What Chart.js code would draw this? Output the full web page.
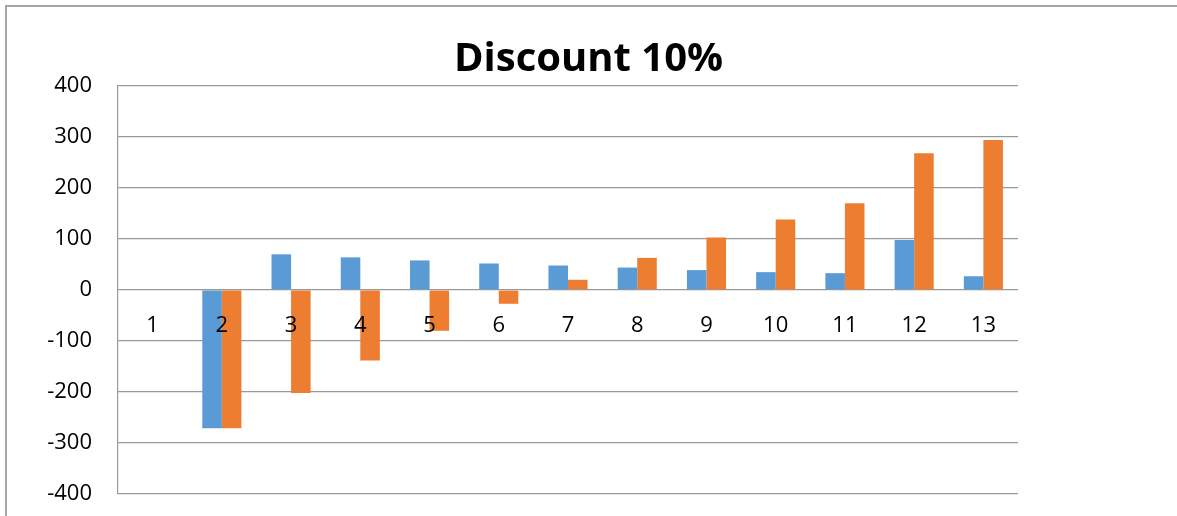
<!DOCTYPE html>
<html>
<head>
<meta charset="utf-8">
<script src="https://cdn.jsdelivr.net/npm/chart.js@4"></script>
<style>
  body { margin: 0; background: #fff; }
  #wrap { position: relative; width: 1177px; height: 516px; overflow: hidden; }
  #frame {
    position: absolute; left: 5px; top: 5px; width: 1200px; height: 600px;
    border-top: 2px solid #a6a6a6; border-left: 2px solid #a6a6a6;
    pointer-events: none;
  }
</style>
</head>
<body>
<div id="wrap">
  <canvas id="myChart" width="1177" height="516"></canvas>
  <div id="frame"></div>
</div>
<script>
var xValues = ["1", "2", "3", "4", "5", "6", "7", "8", "9", "10", "11", "12", "13"];
var blueValues = [0, -271, 70, 64, 58, 52, 48, 44, 39, 35, 33, 98, 27];
var orangeValues = [0, -271, -202, -138, -80, -27, 20, 63, 103, 138, 170, 268, 294];
var yTicks = [-400, -300, -200, -100, 0, 100, 200, 300, 400];

var font = "'Open Sans', 'DejaVu Sans', sans-serif";

new Chart("myChart", {
  type: "bar",
  data: {
    labels: xValues,
    datasets: [
      { label: "Series1", backgroundColor: "#5B9BD5", data: blueValues },
      { label: "Series2", backgroundColor: "#ED7D31", data: orangeValues },
    ],
  },
  options: {
    responsive: false,
    animation: false,
    layout: { padding: { left: 0, right: 0, top: 0, bottom: 22 } },
    datasets: { bar: { categoryPercentage: 0.565, barPercentage: 1 } },
    plugins: {
      legend: { display: false },
      tooltip: { enabled: false },
      title: {
        display: true,
        text: "Discount 10%",
        color: "#000",
        font: { family: font, size: 40, weight: "bold" },
        padding: { top: 36, bottom: 2 },
      },
    },
    scales: {
      x: {
        position: { y: 0 },
        afterFit: function (s) { s.height = 0; },
        grid: { display: false },
        border: { display: false },
        ticks: { z: 1, color: "#000", font: { family: font, size: 22 }, padding: 15, maxRotation: 0 },
      },
      y: {
        min: -400,
        max: 400,
        afterFit: function (s) { s.width = 118; s.paddingTop = 0; s.paddingBottom = 0; },
        afterBuildTicks: function (s) { s.ticks = yTicks.map(function (v) { return { value: v }; }); },
        grid: { color: "#999999", lineWidth: 1.2, drawTicks: false },
        border: { color: "#999999", width: 1.2 },
        ticks: { color: "#000", font: { family: font, size: 22 }, padding: 26 },
      },
      y2: {
        position: "right",
        afterFit: function (s) { s.width = 159; s.paddingTop = 0; s.paddingBottom = 0; },
        grid: { display: false },
        border: { display: false },
        ticks: { display: false },
      },
    },
  },
});
</script>
</body>
</html>
